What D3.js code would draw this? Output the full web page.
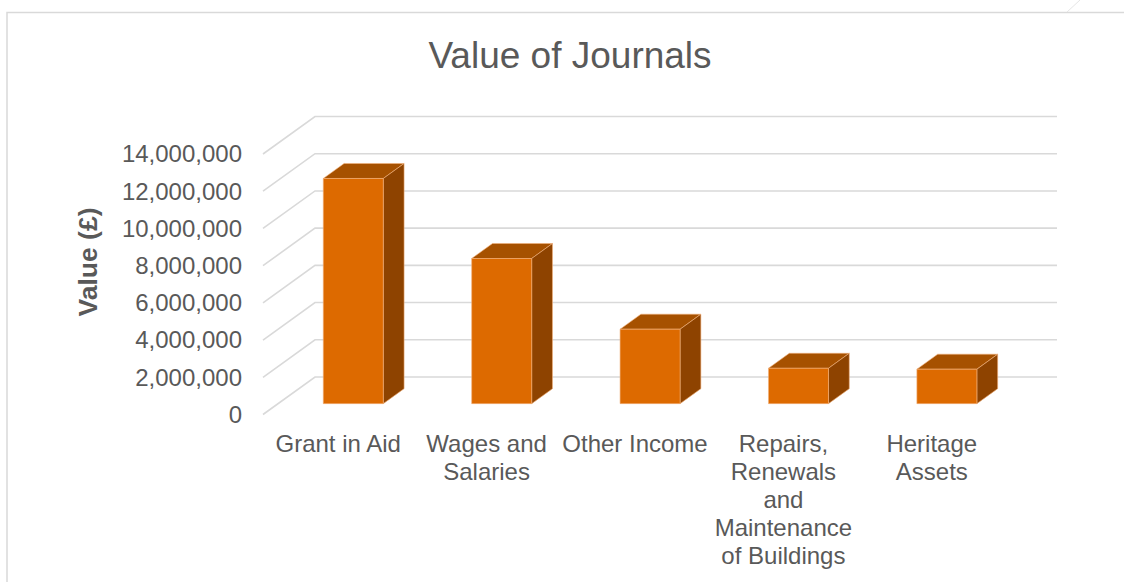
<!DOCTYPE html>
<html>
<head>
<meta charset="utf-8">
<script src="https://cdn.jsdelivr.net/npm/d3@7"></script>
<style>
  html, body { margin: 0; padding: 0; background: #fff; }
  svg { display: block; font-family: "Liberation Sans", Arial, sans-serif; }
</style>
</head>
<body>
<svg id="chart" width="1124" height="582"></svg>
<script>
// Journal totals by category (GBP)
const categories = [
  "Grant in Aid",
  "Wages and Salaries",
  "Other Income",
  "Repairs, Renewals and Maintenance of Buildings",
  "Heritage Assets"
];
const values = [12100000, 7800000, 4000000, 1900000, 1850000];
const yTicks = [0, 2000000, 4000000, 6000000, 8000000, 10000000, 12000000, 14000000];

const svg = d3.select("#chart");
const textColor = "#595959";
const gridColor = "#d9d9d9";

// Pseudo-3D geometry: front plane plus a depth vector
const DX = 52, DY = -37.5;          // full-depth offset
const T0 = 0.29, T1 = 0.69;         // bar front/back depth fractions

const x = d3.scaleBand().domain(categories).range([264, 1006]).paddingInner(0).paddingOuter(0);
const y = d3.scaleLinear().domain([0, 14000000]).range([414.5, 154]);
const barWidth = 60;

const P = (px, v, t) => [px + DX * t, y(v) + DY * t];

// Chart frame
svg.append("path")
  .attr("d", "M7,582 L7,12.5 L1124,12.5")
  .attr("fill", "none").attr("stroke", gridColor).attr("stroke-width", 1.5);
svg.append("line")
  .attr("x1", 1067).attr("y1", 12).attr("x2", 1080).attr("y2", 0)
  .attr("stroke", "#e6e6e6").attr("stroke-width", 1);

// Title
svg.append("text")
  .attr("x", 570).attr("y", 67.5)
  .attr("text-anchor", "middle")
  .attr("font-size", 37).attr("fill", textColor)
  .text("Value of Journals");

// Gridlines: side wall diagonals and back wall horizontals
const grid = svg.append("g").attr("stroke", gridColor).attr("stroke-width", 1.6).attr("fill", "none");
yTicks.forEach(v => {
  const a = P(263, v, 0), b = P(263, v, 1), c = P(1005, v, 1);
  grid.append("path").attr("d", `M${a[0]},${a[1]} L${b[0]},${b[1]} L${c[0]},${c[1]}`);
});

// Value axis labels
const fmt = d3.format(",");
svg.append("g").selectAll("text").data(yTicks).join("text")
  .attr("x", 242).attr("y", d => y(d))
  .attr("dy", "0.35em")
  .attr("text-anchor", "end")
  .attr("font-size", 24).attr("fill", textColor)
  .text(d => fmt(d));

// Value axis title
svg.append("text")
  .attr("transform", "translate(97,262) rotate(-90)")
  .attr("text-anchor", "middle")
  .attr("font-size", 26.5).attr("font-weight", "bold").attr("fill", textColor)
  .text("Value (£)");

// Bars
const poly = pts => "M" + pts.map(p => p.join(",")).join("L") + "Z";
const bars = svg.append("g");
categories.forEach((cat, i) => {
  const v = values[i];
  const cx = x(cat) + x.bandwidth() / 2;
  const xl = cx - barWidth / 2, xr = cx + barWidth / 2;
  const g = bars.append("g").attr("stroke", "#f2b07a").attr("stroke-width", 0.6).attr("stroke-linejoin", "round");
  g.append("path").attr("fill", "#a65100")
    .attr("d", poly([P(xl, v, T0), P(xr, v, T0), P(xr, v, T1), P(xl, v, T1)]));
  g.append("path").attr("fill", "#8e4300")
    .attr("d", poly([P(xr, v, T0), P(xr, v, T1), P(xr, 0, T1), P(xr, 0, T0)]));
  g.append("path").attr("fill", "#dd6a00")
    .attr("d", poly([P(xl, v, T0), P(xr, v, T0), P(xr, 0, T0), P(xl, 0, T0)]));
});

// Category labels, wrapped to the band width
const maxW = x.step();
const labels = svg.append("g").attr("font-size", 24).attr("fill", textColor).attr("text-anchor", "middle");
categories.forEach(cat => {
  const cx = x(cat) + x.bandwidth() / 2;
  const t = labels.append("text").attr("x", cx).attr("y", 451.5);
  const words = cat.split(" ");
  let line = [];
  let tspan = t.append("tspan").attr("x", cx).attr("dy", 0);
  words.forEach(w => {
    line.push(w);
    tspan.text(line.join(" "));
    if (tspan.node().getComputedTextLength() > maxW && line.length > 1) {
      line.pop();
      tspan.text(line.join(" "));
      line = [w];
      tspan = t.append("tspan").attr("x", cx).attr("dy", 28).text(w);
    }
  });
});
</script>
</body>
</html>
